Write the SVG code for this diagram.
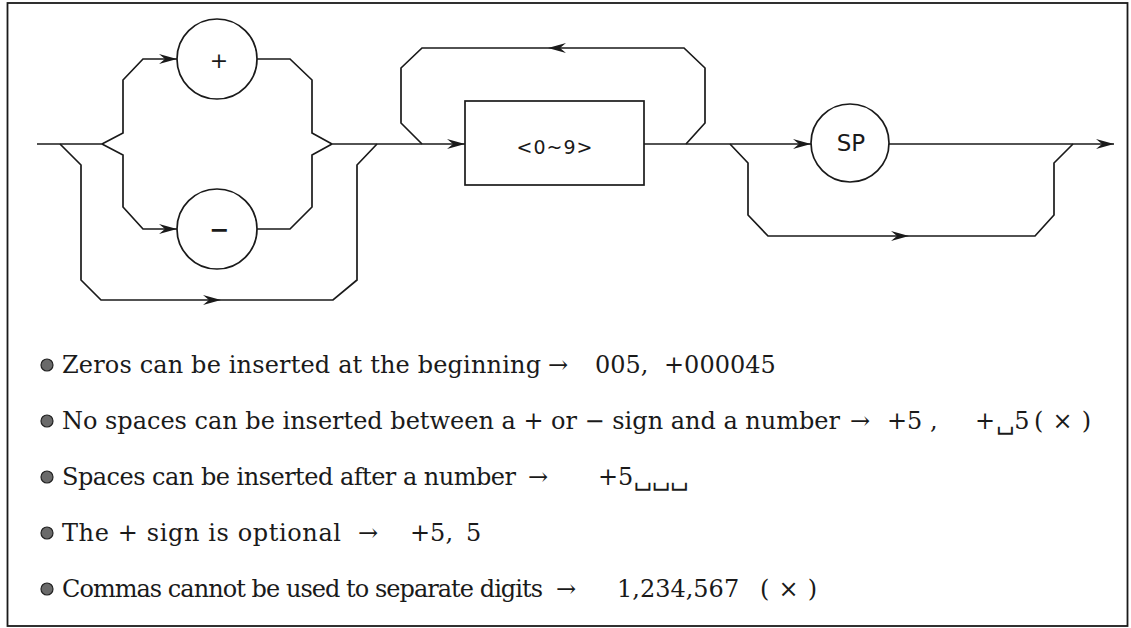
<svg xmlns="http://www.w3.org/2000/svg" width="1131" height="628" viewBox="0 0 1131 628">
<style>
.ln{fill:none;stroke:#1a1a1a;stroke-width:1.7;stroke-linejoin:miter}
.nd{fill:#fff;stroke:#1a1a1a;stroke-width:1.7}
.lbl{font-family:"DejaVu Sans","Liberation Sans",sans-serif;fill:#1a1a1a;text-anchor:middle}
.tx{font-family:"DejaVu Serif","Liberation Serif",serif;font-size:24px;fill:#1a1a1a}
.bul{fill:#6a6a6a;stroke:#222;stroke-width:1.2}
</style>
<defs>
<marker id="ah" markerUnits="userSpaceOnUse" markerWidth="20" markerHeight="12" refX="18" refY="6" orient="auto">
<path d="M0,1 L18,6 L0,11 L6,6 z" fill="#1a1a1a"/>
</marker>
</defs>
<rect x="7.5" y="3" width="1120" height="623" fill="none" stroke="#1a1a1a" stroke-width="1.8"/>
<g id="connectors">
<path class="ln" d="M37,144 H102"/>
<path class="ln" d="M102,144 L123,133 V80 L143,59 H177" marker-end="url(#ah)"/>
<path class="ln" d="M257,59 H290 L312,80 V133 L332,144"/>
<path class="ln" d="M102,144 L123,155 V207 L143,229 H177" marker-end="url(#ah)"/>
<path class="ln" d="M257,229 H290 L312,207 V155 L332,144"/>
<path class="ln" d="M60,144 L81,165 V280 L101,300 H221" marker-end="url(#ah)"/>
<path class="ln" d="M221,300 H333 L357,280 V165 L377,144"/>
<path class="ln" d="M332,144 H465" marker-end="url(#ah)"/>
<path class="ln" d="M686,144 L705,123 V68 L684,48 H548" marker-end="url(#ah)"/>
<path class="ln" d="M548,48 H422 L401,68 V123 L422,144"/>
<path class="ln" d="M644,144 H811" marker-end="url(#ah)"/>
<path class="ln" d="M889,144 H1114" marker-end="url(#ah)"/>
<path class="ln" d="M730,144 L748,163 V215 L768,236 H909" marker-end="url(#ah)"/>
<path class="ln" d="M909,236 H1035 L1054,215 V163 L1073,144"/>
</g>
<g id="node-plus">
<circle class="nd" cx="217" cy="59" r="40"/>
<text class="lbl" x="219" y="68" font-size="22">+</text>
</g>
<g id="node-minus">
<circle class="nd" cx="217" cy="229" r="40"/>
<text class="lbl" x="219" y="238" font-size="24" font-weight="bold">−</text>
</g>
<g id="node-digits">
<rect class="nd" x="465" y="101" width="179" height="84"/>
<text class="lbl" x="555" y="154" font-size="19" letter-spacing="1">&lt;0~9&gt;</text>
</g>
<g id="node-sp">
<circle class="nd" cx="850" cy="143" r="39"/>
<text class="lbl" x="851" y="151" font-size="23">SP</text>
</g>
<g id="notes">
<circle class="bul" cx="47" cy="365" r="6"/>
<text class="tx" x="62" y="373" textLength="479">Zeros can be inserted at the beginning</text>
<text class="tx" x="548" y="373">→</text>
<text class="tx" x="595" y="373">005,</text>
<text class="tx" x="664" y="373">+000045</text>

<circle class="bul" cx="47" cy="421" r="6"/>
<text class="tx" x="62" y="429" textLength="778">No spaces can be inserted between a + or − sign and a number</text>
<text class="tx" x="850" y="429">→</text>
<text class="tx" x="887" y="429">+5</text>
<text class="tx" x="930" y="429">,</text>
<text class="tx" x="975" y="429">+</text>
<text class="tx" x="996" y="429">␣5</text>
<text class="tx" x="1034" y="429" textLength="57">(×)</text>

<circle class="bul" cx="47" cy="477" r="6"/>
<text class="tx" x="62" y="485" textLength="454">Spaces can be inserted after a number</text>
<text class="tx" x="528" y="485">→</text>
<text class="tx" x="598" y="485">+5␣␣␣</text>

<circle class="bul" cx="47" cy="533" r="6"/>
<text class="tx" x="62" y="541" textLength="279">The + sign is optional</text>
<text class="tx" x="358" y="541">→</text>
<text class="tx" x="410" y="541">+5,</text>
<text class="tx" x="466" y="541">5</text>

<circle class="bul" cx="47" cy="589" r="6"/>
<text class="tx" x="62" y="597" textLength="481">Commas cannot be used to separate digits</text>
<text class="tx" x="556" y="597">→</text>
<text class="tx" x="617" y="597">1,234,567</text>
<text class="tx" x="760" y="597" textLength="57">(×)</text>
</g>
</svg>
